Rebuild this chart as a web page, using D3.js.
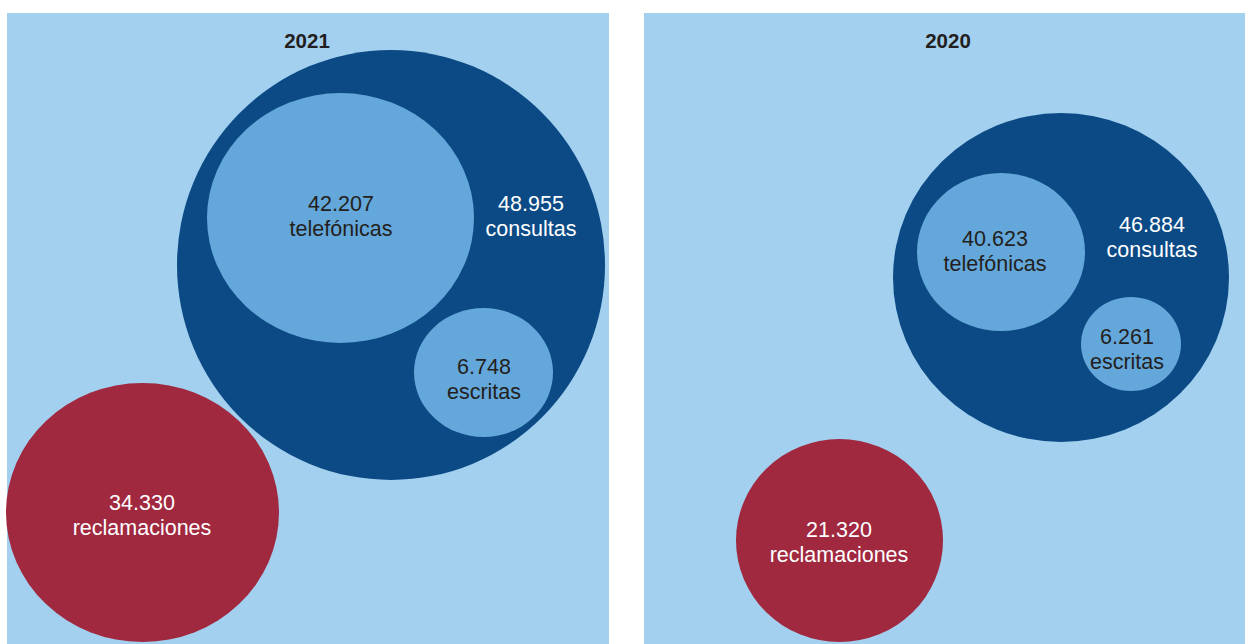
<!DOCTYPE html>
<html>
<head>
<meta charset="utf-8">
<script src="https://cdn.jsdelivr.net/npm/d3@7"></script>
<style>
  html, body { margin: 0; padding: 0; background: #ffffff; }
  svg { display: block; }
  text { font-family: "Liberation Sans", Arial, Helvetica, sans-serif; }
</style>
</head>
<body>
<svg id="chart" width="1245" height="644"></svg>
<script>
// ---- data ----
const years = ["2021", "2020"];
const categories = ["consultas", "telefónicas", "escritas", "reclamaciones"];
const values2021 = [48955, 42207, 6748, 34330];
const values2020 = [46884, 40623, 6261, 21320];

// ---- layout (positions/sizes, per panel, per category) ----
const panelX = [7, 644];
const panelW = [602, 601];
const panelTop = 13;
const titleX = [307, 948];
const titleY = 41;
// cx, cy, rx, ry, label x, label y (centre of two-line label)
const layout2021 = [
  { cx: 391, cy: 265, rx: 214, ry: 215, lx: 531, ly: 215.5 },
  { cx: 340.5, cy: 218, rx: 133.5, ry: 125, lx: 341, ly: 215.5 },
  { cx: 483.5, cy: 372.5, rx: 69.5, ry: 64.5, lx: 484, ly: 379 },
  { cx: 142.5, cy: 512.5, rx: 136.5, ry: 129.5, lx: 142, ly: 514.5 }
];
const layout2020 = [
  { cx: 1061, cy: 277.5, rx: 168, ry: 164.5, lx: 1152, ly: 237 },
  { cx: 1001, cy: 252, rx: 84, ry: 79, lx: 995, ly: 250.5 },
  { cx: 1131, cy: 344, rx: 50, ry: 47, lx: 1127, ly: 349 },
  { cx: 839.5, cy: 540.5, rx: 103.5, ry: 101.5, lx: 839, ly: 541.5 }
];

// ---- styles ----
const colorScale = d3.scaleOrdinal()
  .domain(categories)
  .range(["#0b4a85", "#64a7da", "#64a7da", "#a0283f"]);
const textColor = d3.scaleOrdinal()
  .domain(categories)
  .range(["#ffffff", "#231f20", "#231f20", "#ffffff"]);
const bg = "#a3d0ef";

const esLocale = d3.formatLocale({ decimal: ",", thousands: ".", grouping: [3], currency: ["", " €"] });
const fmt = esLocale.format(",d");

const svg = d3.select("#chart");

const panels = years.map((y, i) => ({
  year: y,
  values: i === 0 ? values2021 : values2020,
  layout: i === 0 ? layout2021 : layout2020,
  i
}));

panels.forEach(p => {
  const g = svg.append("g");
  g.append("rect")
    .attr("x", panelX[p.i]).attr("y", panelTop)
    .attr("width", panelW[p.i]).attr("height", 644 - panelTop)
    .attr("fill", bg);

  const nodes = categories.map((c, k) => Object.assign({ cat: c, value: p.values[k] }, p.layout[k]));

  g.selectAll("ellipse").data(nodes).join("ellipse")
    .attr("cx", d => d.cx).attr("cy", d => d.cy)
    .attr("rx", d => d.rx).attr("ry", d => d.ry)
    .attr("fill", d => colorScale(d.cat));

  const lab = g.selectAll("text.lab").data(nodes).join("text")
    .attr("class", "lab")
    .attr("text-anchor", "middle")
    .attr("font-size", "21.5px")
    .attr("fill", d => textColor(d.cat));
  lab.append("tspan")
    .attr("x", d => d.lx).attr("y", d => d.ly - 12.5).attr("dy", "0.35em")
    .text(d => fmt(d.value));
  lab.append("tspan")
    .attr("x", d => d.lx).attr("y", d => d.ly + 12.5).attr("dy", "0.35em")
    .text(d => d.cat);

  g.append("text")
    .attr("x", titleX[p.i]).attr("y", titleY).attr("dy", "0.35em")
    .attr("text-anchor", "middle")
    .attr("font-size", "20.5px").attr("font-weight", "bold")
    .attr("fill", "#231f20")
    .text(p.year);
});
</script>
</body>
</html>
